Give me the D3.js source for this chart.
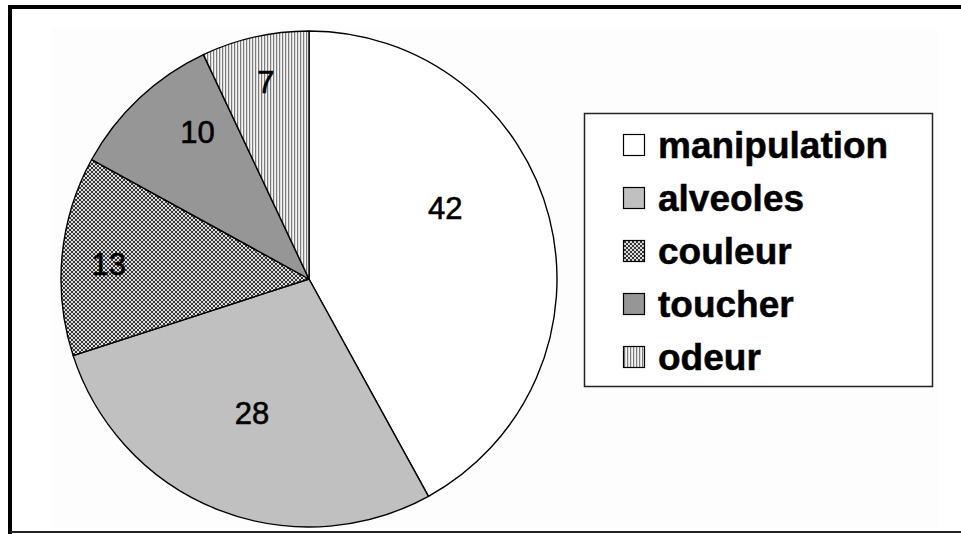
<!DOCTYPE html>
<html>
<head>
<meta charset="utf-8">
<script src="https://cdn.jsdelivr.net/npm/d3@7/dist/d3.min.js"></script>
<style>
  html, body { margin: 0; padding: 0; background: #fff; }
  svg { display: block; }
</style>
</head>
<body>
<svg id="chart" width="961" height="534"></svg>
<script>
// Categories and their counts
const categories = ["manipulation", "alveoles", "couleur", "toucher", "odeur"];
const values = [42, 28, 13, 10, 7];
const labels = ["42", "28", "13", "10", "7"];

// Label placement inside each slice: angle shift (deg) and radius fraction
const labelPlacement = [
  { shift: -13.3, r: 0.62 },
  { shift: 1.5, r: 0.585 },
  { shift: -1.0, r: 0.81 },
  { shift: 6.1, r: 0.745 },
  { shift: 0.3, r: 0.815 }
];

const svg = d3.select("#chart");
const W = 961, H = 534;

// Outer frame (right side runs off the page)
svg.append("rect").attr("x", 0).attr("y", 0).attr("width", W).attr("height", H).attr("fill", "#fff");
svg.append("rect")
  .attr("x", 52).attr("y", 28).attr("width", 886).attr("height", 500)
  .attr("fill", "#fdfdfd");
svg.append("path")
  .attr("d", `M10,${H} L10,7 L${W + 5},7`)
  .attr("fill", "none").attr("stroke", "#000").attr("stroke-width", 4);
svg.append("line")
  .attr("x1", 10).attr("x2", W).attr("y1", 532).attr("y2", 532)
  .attr("stroke", "#222").attr("stroke-width", 2);

// Fill patterns
const defs = svg.append("defs");
const checker = defs.append("pattern")
  .attr("id", "pat-couleur").attr("patternUnits", "userSpaceOnUse")
  .attr("width", 4).attr("height", 4);
checker.append("rect").attr("width", 4).attr("height", 4).attr("fill", "#353535");
checker.append("rect").attr("x", 0).attr("y", 0).attr("width", 2).attr("height", 2).attr("fill", "#dcdcdc");
checker.append("rect").attr("x", 2).attr("y", 2).attr("width", 2).attr("height", 2).attr("fill", "#dcdcdc");

const stripes = defs.append("pattern")
  .attr("id", "pat-odeur").attr("patternUnits", "userSpaceOnUse")
  .attr("width", 3).attr("height", 3);
stripes.append("rect").attr("width", 3).attr("height", 3).attr("fill", "#f4f4f4");
stripes.append("rect").attr("x", 0).attr("width", 1.2).attr("height", 3).attr("fill", "#7a7a7a");

const fills = d3.scaleOrdinal()
  .domain(categories)
  .range(["#ffffff", "#c0c0c0", "url(#pat-couleur)", "#969696", "url(#pat-odeur)"]);

// Pie
const cx = 309, cy = 279, R = 248;
const pie = d3.pie().sort(null).value(d => d);
const arcs = pie(values);
const arc = d3.arc().innerRadius(0).outerRadius(R);

const g = svg.append("g").attr("transform", `translate(${cx},${cy})`);
g.selectAll("path.slice")
  .data(arcs)
  .join("path")
  .attr("class", "slice")
  .attr("d", arc)
  .attr("fill", (d, i) => fills(categories[i]))
  .attr("stroke", "#000")
  .attr("stroke-width", 1.4)
  .attr("stroke-linejoin", "round");

g.selectAll("text.val")
  .data(arcs)
  .join("text")
  .attr("class", "val")
  .attr("transform", (d, i) => {
    const p = labelPlacement[i];
    const a = (d.startAngle + d.endAngle) / 2 + p.shift * Math.PI / 180;
    const r = R * p.r;
    return `translate(${r * Math.sin(a)},${-r * Math.cos(a)})`;
  })
  .attr("text-anchor", "middle")
  .attr("dy", "0.36em")
  .attr("font-family", "'Liberation Sans', Arial, sans-serif")
  .attr("font-size", 31)
  .attr("fill", "#000")
  .attr("stroke", "#000")
  .attr("stroke-width", 0.6)
  .text((d, i) => labels[i]);

// Legend
const lg = svg.append("g");
lg.append("rect")
  .attr("x", 584.5).attr("y", 113.5).attr("width", 348).attr("height", 273)
  .attr("fill", "#fff").attr("stroke", "#222").attr("stroke-width", 1.5);

const rowY = d3.scalePoint().domain(categories).range([145, 357]);
const rows = lg.selectAll("g.row")
  .data(categories)
  .join("g")
  .attr("class", "row")
  .attr("transform", d => `translate(0,${rowY(d)})`);
rows.append("rect")
  .attr("x", 623.5).attr("y", -10.5).attr("width", 21).attr("height", 21)
  .attr("fill", d => fills(d))
  .attr("stroke", "#000").attr("stroke-width", 1.2);
rows.append("text")
  .attr("x", 658).attr("dy", "0.36em")
  .attr("font-family", "'Liberation Sans', Arial, sans-serif")
  .attr("font-weight", "bold")
  .attr("font-size", 37)
  .attr("fill", "#000")
  .attr("stroke", "#000")
  .attr("stroke-width", 0.5)
  .text(d => d);
</script>
</body>
</html>
